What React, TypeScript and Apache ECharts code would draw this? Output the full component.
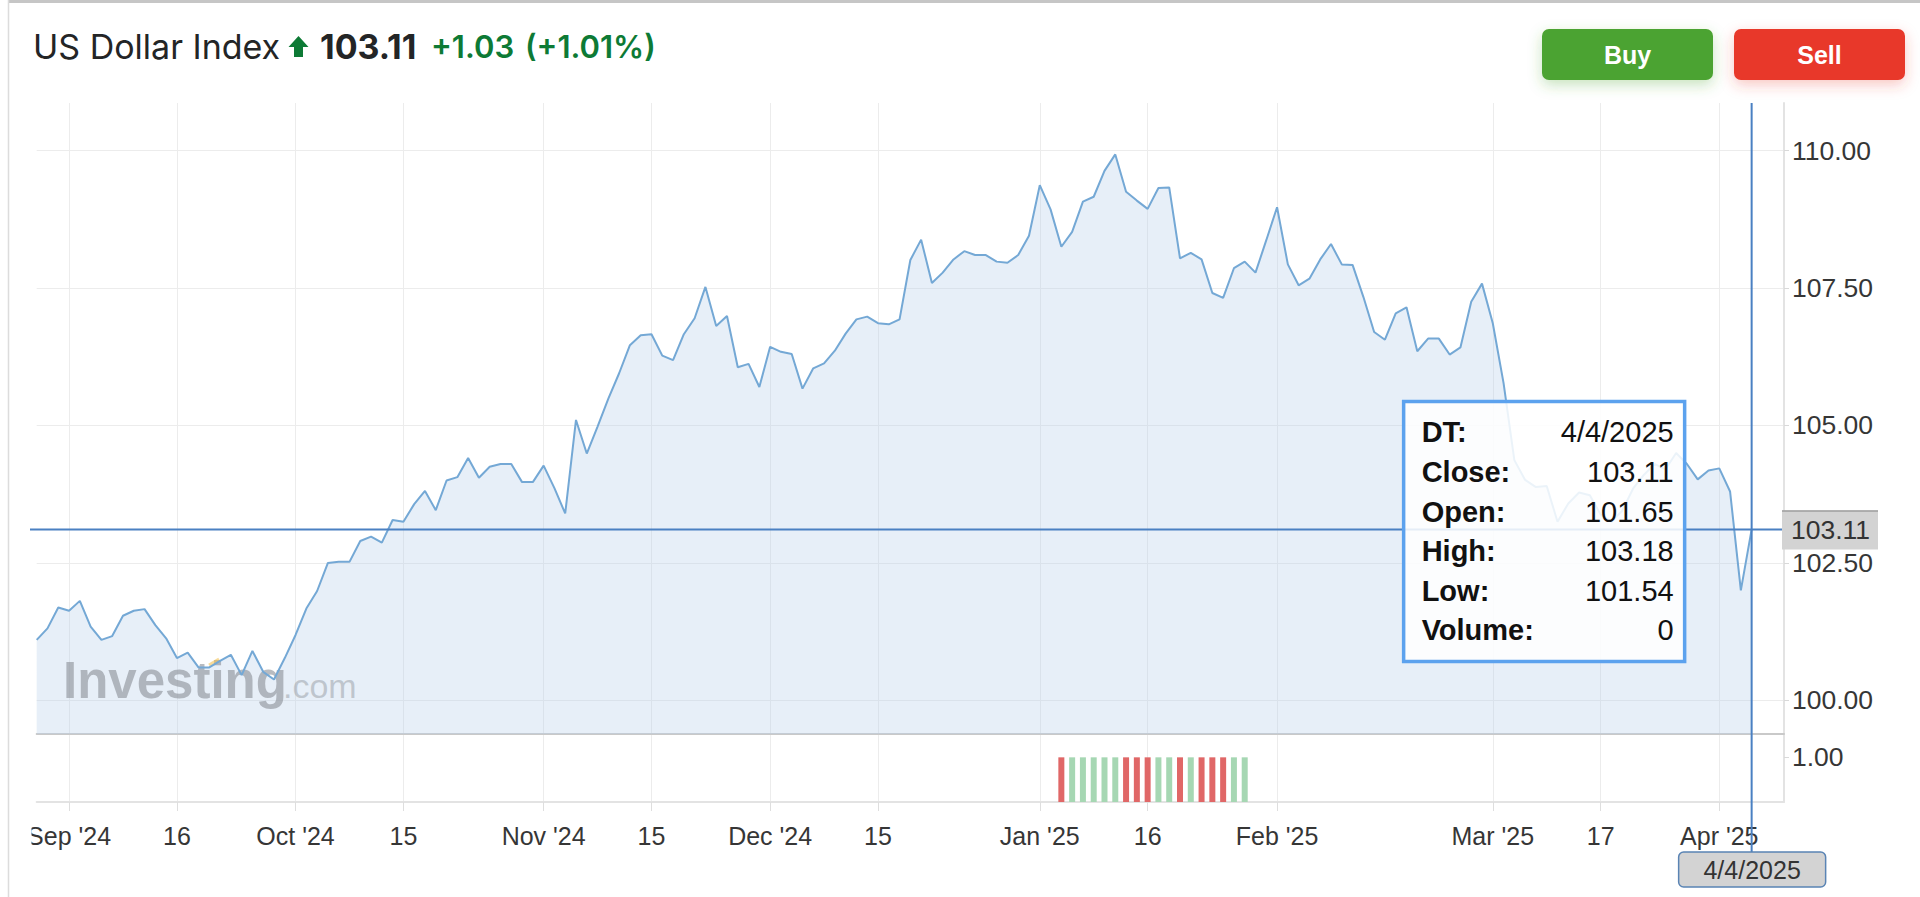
import React, { useEffect, useRef } from "react";
import * as echarts from "echarts";

// ---------------- DATA ----------------
const instrumentName = "US Dollar Index";
const dayChange = 1.03;
const dayChangePct = 1.01;

// Daily closes, one per session
const closes: number[] = [
  101.10, 101.31, 101.69, 101.63, 101.81, 101.34, 101.10, 101.17, 101.54, 101.63,
  101.66, 101.37, 101.13, 100.77, 100.87, 100.60, 100.60, 100.72, 100.83, 100.46,
  100.90, 100.52, 100.38, 100.77, 101.19, 101.67, 101.99, 102.50, 102.52, 102.52,
  102.90, 102.98, 102.87, 103.28, 103.25, 103.57, 103.81, 103.46, 104.00, 104.06,
  104.41, 104.05, 104.25, 104.30, 104.30, 103.97, 103.97, 104.27, 103.86, 103.40,
  105.10, 104.49, 104.98, 105.49, 105.95, 106.46, 106.64, 106.66, 106.27, 106.19,
  106.66, 106.95, 107.52, 106.81, 106.99, 106.06, 106.12, 105.70, 106.43, 106.34,
  106.30, 105.67, 106.04, 106.13, 106.36, 106.67, 106.93, 106.98, 106.86, 106.84,
  106.93, 108.01, 108.38, 107.59, 107.78, 108.02, 108.17, 108.10, 108.10, 107.98,
  107.96, 108.10, 108.45, 109.37, 108.93, 108.25, 108.52, 109.07, 109.16, 109.63,
  109.93, 109.25, 109.09, 108.94, 109.32, 109.33, 108.04, 108.14, 108.02, 107.41,
  107.32, 107.86, 107.98, 107.78, 108.37, 108.97, 107.93, 107.55, 107.67, 108.02,
  108.30, 107.93, 107.92, 107.34, 106.70, 106.56, 107.04, 107.15, 106.35, 106.58,
  106.58, 106.29, 106.42, 107.25, 107.58, 106.86, 105.77, 104.37, 104.01, 103.88,
  103.90, 103.25, 103.58, 103.78, 103.73, 103.38, 103.25, 103.45, 103.85, 104.10,
  104.30, 104.20, 104.50, 104.30, 104.02, 104.18, 104.22, 103.80, 102.00, 103.11,
];

// Sessions: weekdays from first to last, plus the extra sessions in the feed
const firstSession = [2024, 8, 28];
const lastAxisSession = [2025, 4, 9]; // axis runs a few empty sessions past the last close
const extraSessions = ["12/22/2024", "12/29/2024"];

// Last bar details (tooltip)
const lastOpen = 101.65;
const lastHigh = 103.18;
const lastLow = 101.54;
const lastVolume = 0;
const tooltipLabels = ["DT:", "Close:", "Open:", "High:", "Low:", "Volume:"];

// Volume pane
const volumeFirstSession = "1/6/2025";
const volumes = [1, 1, 1, 1, 1, 1, 1, 1, 1, 1, 1, 1, 1, 1, 1, 1, 1, 1];

// Axis ticks
const tickSessions = [
  "9/2/2024", "9/16/2024", "10/1/2024", "10/15/2024", "11/1/2024", "11/15/2024",
  "12/2/2024", "12/16/2024", "1/2/2025", "1/16/2025", "2/3/2025", "3/3/2025",
  "3/17/2025", "4/1/2025",
];
const tickLabels = [
  "Sep '24", "16", "Oct '24", "15", "Nov '24", "15", "Dec '24", "15",
  "Jan '25", "16", "Feb '25", "Mar '25", "17", "Apr '25",
];
const priceTicks = [100, 102.5, 105, 107.5, 110];
const volumeTicks = [1];

// ---------------- HELPERS ----------------
function buildSessions(): string[] {
  const out: string[] = [];
  const start = Date.UTC(firstSession[0], firstSession[1] - 1, firstSession[2]);
  const end = Date.UTC(lastAxisSession[0], lastAxisSession[1] - 1, lastAxisSession[2]);
  for (let t = start; t <= end; t += 86400000) {
    const d = new Date(t);
    const dow = d.getUTCDay();
    const s = `${d.getUTCMonth() + 1}/${d.getUTCDate()}/${d.getUTCFullYear()}`;
    if ((dow >= 1 && dow <= 5) || extraSessions.includes(s)) out.push(s);
  }
  return out;
}

const FONT_AX = '"Liberation Sans", Arial, Helvetica, sans-serif';
const FONT_UI = 'Inter, "Liberation Sans", sans-serif';
const LINE_COLOR = "#74a8d5";
const CROSS_COLOR = "#4a80c2";
const GRID_COLOR = "#ececec";
const AXIS_TEXT = "#363636";
const UP_GREEN = "#0d7a35";

function txt(text: string, x: number, y: number, font: string, fill: string, align = "left", z = 20) {
  return {
    type: "text",
    z,
    silent: true,
    style: {
      text,
      x,
      y,
      font,
      fill,
      align,
      verticalAlign: "middle",
      textAlign: align,
      textVerticalAlign: "middle",
    },
  };
}

export default function App() {
  const ref = useRef<HTMLDivElement>(null);

  useEffect(() => {
    const el = ref.current;
    if (!el) return;
    const chart = echarts.init(el, undefined, { renderer: "svg", width: 1920, height: 897 });

    const sessions = buildSessions();
    const tickIdx = new Map<number, string>();
    tickSessions.forEach((s, k) => {
      const i = sessions.indexOf(s);
      if (i >= 0) tickIdx.set(i, tickLabels[k]);
    });
    const isTick = (index: number) => tickIdx.has(index);

    const volStart = sessions.indexOf(volumeFirstSession);
    const volumeData: any[] = sessions.map(() => null);
    volumes.forEach((v, k) => {
      const i = volStart + k;
      const up = closes[i] >= closes[i - 1];
      volumeData[i] = { value: v, itemStyle: { color: up ? "#a6d7b3" : "#e06767" } };
    });

    const yMin = 99.389;
    const yMax = 110.865;
    const gridLeft = 36.7;
    const gridRight = 136;

    const option: any = {
      animation: false,
      backgroundColor: "#ffffff",
      grid: [
        { left: gridLeft, right: gridRight, top: 103, height: 631 },
        { left: gridLeft, right: gridRight, top: 735, height: 67 },
      ],
      xAxis: [
        {
          type: "category",
          gridIndex: 0,
          data: sessions,
          boundaryGap: false,
          axisLine: { show: true, lineStyle: { color: "#c9c9c9", width: 2 } },
          axisTick: { show: false },
          axisLabel: { show: false },
          splitLine: { show: true, interval: isTick, lineStyle: { color: GRID_COLOR, width: 1 } },
        },
        {
          type: "category",
          gridIndex: 1,
          data: sessions,
          boundaryGap: false,
          axisLine: { show: true, lineStyle: { color: "#e3e3e3", width: 2 } },
          axisTick: { show: true, interval: isTick, length: 9, lineStyle: { color: "#dedede" } },
          axisLabel: {
            show: true,
            interval: isTick,
            formatter: (_v: string, i: number) => tickIdx.get(i) ?? "",
            margin: 21,
            fontSize: 25,
            fontFamily: FONT_AX,
            color: AXIS_TEXT,
          },
          splitLine: { show: true, interval: isTick, lineStyle: { color: GRID_COLOR, width: 1 } },
        },
      ],
      yAxis: [
        {
          type: "value",
          gridIndex: 0,
          position: "right",
          min: yMin,
          max: yMax,
          axisLine: { show: true, lineStyle: { color: "#e3e3e3", width: 2 } },
          axisTick: { show: true, customValues: priceTicks, length: 5, lineStyle: { color: "#d9d9d9" } },
          axisLabel: {
            customValues: priceTicks,
            formatter: (v: number) => v.toFixed(2),
            margin: 8,
            fontSize: 26.5,
            fontFamily: FONT_AX,
            color: AXIS_TEXT,
          },
          splitLine: { show: true, lineStyle: { color: GRID_COLOR, width: 1 } },
        },
        {
          type: "value",
          gridIndex: 1,
          position: "right",
          min: 0,
          max: 1.5,
          axisLine: { show: true, lineStyle: { color: "#e3e3e3", width: 2 } },
          axisTick: { show: true, customValues: volumeTicks, length: 5, lineStyle: { color: "#d9d9d9" } },
          axisLabel: {
            customValues: volumeTicks,
            formatter: (v: number) => v.toFixed(2),
            margin: 8,
            fontSize: 26.5,
            fontFamily: FONT_AX,
            color: AXIS_TEXT,
          },
          splitLine: { show: false },
        },
      ],
      series: [
        {
          name: "area",
          type: "line",
          xAxisIndex: 0,
          yAxisIndex: 0,
          data: closes,
          showSymbol: false,
          silent: true,
          z: 1,
          lineStyle: { opacity: 0 },
          areaStyle: { color: "rgba(186,210,235,0.5)", origin: "start" },
        },
        {
          name: "close",
          type: "line",
          xAxisIndex: 0,
          yAxisIndex: 0,
          data: closes,
          showSymbol: false,
          silent: true,
          z: 3,
          lineStyle: { color: LINE_COLOR, width: 2 },
        },
        {
          name: "volume",
          type: "bar",
          xAxisIndex: 1,
          yAxisIndex: 1,
          data: volumeData,
          barWidth: 6,
          silent: true,
        },
      ],
    };

    chart.setOption(option);

    const lastIdx = closes.length - 1;
    const lastClose = closes[lastIdx];
    const p = chart.convertToPixel({ gridIndex: 0 }, [lastIdx, lastClose]) as number[];
    const cx = p[0];
    const cy = p[1];
    const plotRight = 1920 - gridRight;
    const plotTop = 103;

    const tooltipValues = [
      sessions[lastIdx],
      lastClose.toFixed(2),
      lastOpen.toFixed(2),
      lastHigh.toFixed(2),
      lastLow.toFixed(2),
      String(lastVolume),
    ];

    const boxL = cx - 348;
    const boxR = cx - 67;
    const boxT = cy - 128;
    const boxB = cy + 132;

    const graphics: any[] = [
      // card borders
      { type: "line", z: 30, silent: true, shape: { x1: 8, y1: 1.5, x2: 1920, y2: 1.5 }, style: { stroke: "#c6c6c6", lineWidth: 3 } },
      { type: "line", z: 30, silent: true, shape: { x1: 8.5, y1: 0, x2: 8.5, y2: 897 }, style: { stroke: "#dcdcdc", lineWidth: 1.5 } },
      // clip left of first label
      { type: "rect", z: 25, silent: true, shape: { x: 9.5, y: 812, width: 22, height: 50 }, style: { fill: "#ffffff" } },

      // header
      txt(instrumentName, 33, 46, `400 34px ${FONT_UI}`, "#232526"),
      {
        type: "polygon",
        z: 20,
        silent: true,
        shape: {
          points: [[298.5, 36], [308.5, 47], [303, 47], [303, 57], [294, 57], [294, 47], [288.5, 47]],
        },
        style: { fill: UP_GREEN },
      },
      txt(lastClose.toFixed(2), 320, 46, `700 34px ${FONT_UI}`, "#232526"),
      txt(`+${dayChange.toFixed(2)}`, 431, 46, `600 31px ${FONT_UI}`, UP_GREEN),
      txt(`(+${dayChangePct.toFixed(2)}%)`, 525, 46, `600 31px ${FONT_UI}`, UP_GREEN),

      // buttons
      {
        type: "rect",
        z: 20,
        silent: true,
        shape: { x: 1542, y: 29, width: 171, height: 51, r: 7 },
        style: { fill: "#4ca331", shadowBlur: 14, shadowOffsetY: 5, shadowColor: "rgba(76,163,49,0.30)" },
      },
      txt("Buy", 1627.5, 54.5, `700 25px ${FONT_AX}`, "#ffffff", "center", 21),
      {
        type: "rect",
        z: 20,
        silent: true,
        shape: { x: 1734, y: 29, width: 171, height: 51, r: 7 },
        style: { fill: "#e8382a", shadowBlur: 14, shadowOffsetY: 5, shadowColor: "rgba(232,56,42,0.28)" },
      },
      txt("Sell", 1819.5, 54.5, `700 25px ${FONT_AX}`, "#ffffff", "center", 21),

      // watermark
      txt("Investing", 63, 680, `700 51px ${FONT_AX}`, "rgba(140,146,154,0.62)", "left", 2),
      txt(".com", 283, 686, `400 34px ${FONT_AX}`, "rgba(150,156,163,0.5)", "left", 2),
      {
        type: "line",
        z: 2,
        silent: true,
        shape: { x1: 209, y1: 665, x2: 219, y2: 659 },
        style: { stroke: "rgba(242,190,70,0.55)", lineWidth: 3 },
      },

      // crosshair
      { type: "line", z: 12, silent: true, shape: { x1: 30, y1: cy, x2: plotRight, y2: cy }, style: { stroke: CROSS_COLOR, lineWidth: 2 } },
      { type: "line", z: 12, silent: true, shape: { x1: cx, y1: plotTop, x2: cx, y2: 852 }, style: { stroke: CROSS_COLOR, lineWidth: 2 } },
      // price label
      { type: "rect", z: 13, silent: true, shape: { x: plotRight - 2, y: cy - 19, width: 96, height: 39 }, style: { fill: "#d3d3d3" } },
      { type: "line", z: 14, silent: true, shape: { x1: plotRight - 2, y1: cy - 18.5, x2: plotRight + 94, y2: cy - 18.5 }, style: { stroke: "#9e9e9e", lineWidth: 1.5 } },
      txt(lastClose.toFixed(2), 1791, cy + 1, `400 26.5px ${FONT_AX}`, "#333333", "left", 15),
      // date label
      {
        type: "rect",
        z: 13,
        silent: true,
        shape: { x: cx - 73, y: 852, width: 147, height: 35, r: 5 },
        style: { fill: "#d3d3d3", stroke: "#5a84b4", lineWidth: 1.5 },
      },
      txt(sessions[lastIdx], cx + 0.5, 869.5, `400 25px ${FONT_AX}`, "#333333", "center", 15),

      // tooltip
      {
        type: "rect",
        z: 16,
        silent: true,
        shape: { x: boxL, y: boxT, width: boxR - boxL, height: boxB - boxT },
        style: { fill: "rgba(255,255,255,0.86)", stroke: "#5ca2ee", lineWidth: 3.5 },
      },
    ];

    tooltipLabels.forEach((lab, k) => {
      const y = boxT + 31 + k * 39.6;
      graphics.push(txt(lab, boxL + 18, y, `700 29px ${FONT_AX}`, "#111111", "left", 17));
      graphics.push(txt(tooltipValues[k], boxR - 11, y, `400 29px ${FONT_AX}`, "#111111", "right", 17));
    });

    chart.setOption({ graphic: graphics });

    return () => chart.dispose();
  }, []);

  return (
    <div
      ref={ref}
      style={{ position: "absolute", left: 0, top: 0, width: 1920, height: 897, background: "#ffffff" }}
    />
  );
}
